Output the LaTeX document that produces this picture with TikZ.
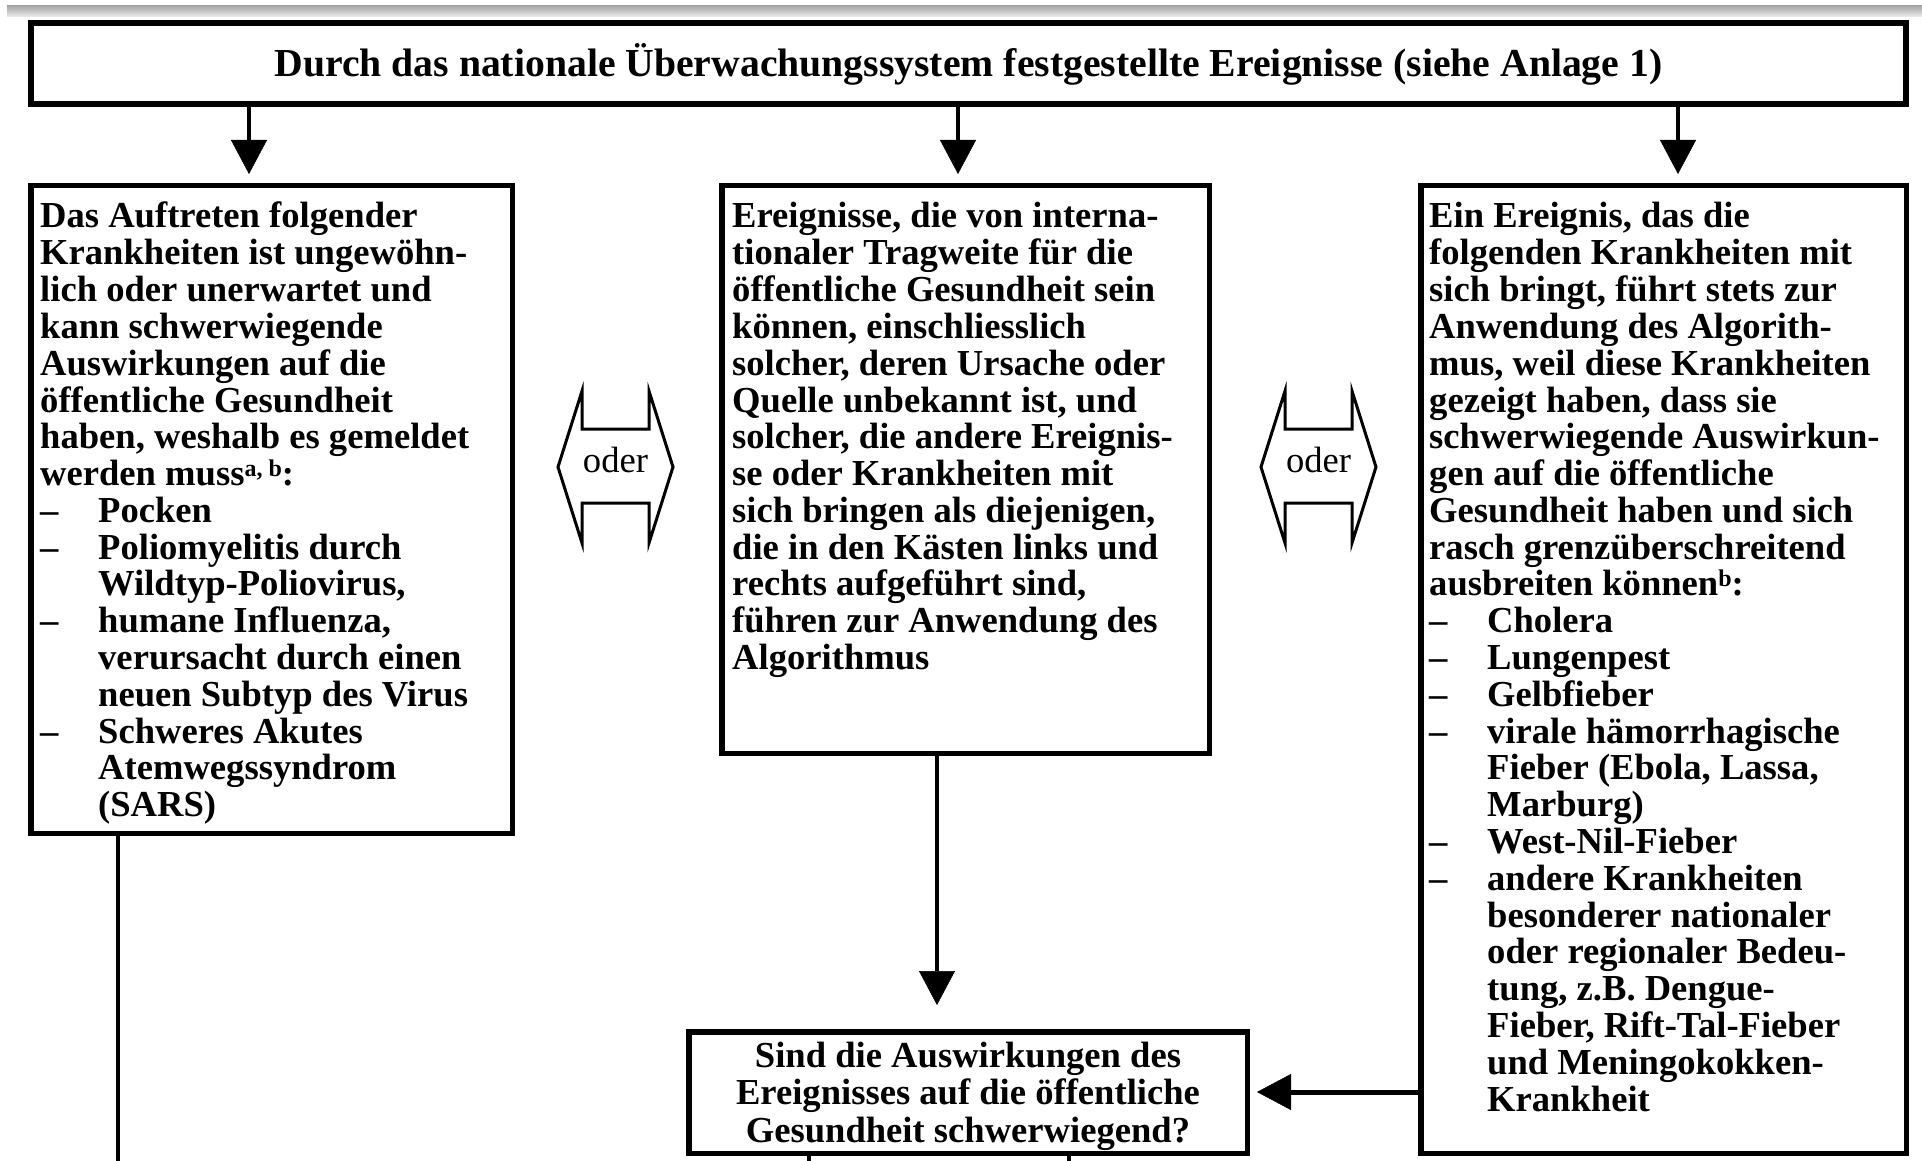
\documentclass[tikz,border=0pt]{standalone}
\usepackage{fontspec}
\setmainfont{Liberation Serif}
\usetikzlibrary{arrows.meta}
\newcommand\dgBody{\fontsize{36.6}{36.8}\selectfont\bfseries\hyphenpenalty=10000 }
\newcommand\dgItem{\makebox[58pt][l]{–}}
\newcommand\dgInd{\hspace*{58pt}}
\newcommand\dgSup[1]{\raisebox{9pt}{\fontsize{24}{24}\selectfont #1}}
\tikzset{
  box/.style={draw, line width=5.5pt, inner sep=0pt},
  body/.style={inner sep=0pt, anchor=base west, align=flush left, font=\dgBody, text width=#1},
  arr/.style={line width=4.5pt, -{Triangle[length=34pt,width=36pt,line width=0.5pt]}},
  conn/.style={line width=4.5pt},
  oderline/.style={line width=3pt, line join=miter},
  odertext/.style={inner sep=0pt, anchor=base, font=\fontsize{36.6}{36.8}\selectfont}
}
\begin{document}
\begin{tikzpicture}[x=1pt,y=-1pt]
\fill[white] (0,0) rectangle (1922,1161);
\useasboundingbox (0,0) rectangle (1922,1161);
% grey band at top
\shade[top color=gray!70, bottom color=gray!12] (7,6) rectangle (1922,17);

% boxes
\node[box, minimum width=1875pt, minimum height=81pt] (T) at (968.5,63.5) {};
\node[box, minimum width=481.5pt, minimum height=647.5pt] (L) at (271.5,509.5) {};
\node[box, minimum width=487.5pt, minimum height=567.5pt] (M) at (965.5,469.5) {};
\node[box, minimum width=485.5pt, minimum height=967.5pt] (R) at (1663.5,669.5) {};
\node[box, minimum width=558.5pt, minimum height=121.5pt] (B) at (968,1092.5) {};

% texts
\node[inner sep=0pt, anchor=base, font=\fontsize{39.7}{40}\selectfont\bfseries] (Ttx) at (968.5,77)
  {Durch das nationale Überwachungssystem festgestellte Ereignisse (siehe Anlage 1)};

\node[body=470pt] (Ltx) at (40,228) {Das Auftreten folgender\\
Krankheiten ist ungewöhn-\\
lich oder unerwartet und\\
kann schwerwiegende\\
Auswirkungen auf die\\
öffentliche Gesundheit\\
haben, weshalb es gemeldet\\
werden muss\dgSup{a, b}:\\
\dgItem Pocken\\
\dgItem Poliomyelitis durch\\
\dgInd Wildtyp-Poliovirus,\\
\dgItem humane Influenza,\\
\dgInd verursacht durch einen\\
\dgInd neuen Subtyp des Virus\\
\dgItem Schweres Akutes\\
\dgInd Atemwegssyndrom\\
\dgInd (SARS)};

\node[body=470pt] (Mtx) at (732,228) {Ereignisse, die von interna-\\
tionaler Tragweite für die\\
öffentliche Gesundheit sein\\
können, einschliesslich\\
solcher, deren Ursache oder\\
Quelle unbekannt ist, und\\
solcher, die andere Ereignis-\\
se oder Krankheiten mit\\
sich bringen als diejenigen,\\
die in den Kästen links und\\
rechts aufgeführt sind,\\
führen zur Anwendung des\\
Algorithmus};

\node[body=470pt] (Rtx) at (1429,228) {Ein Ereignis, das die\\
folgenden Krankheiten mit\\
sich bringt, führt stets zur\\
Anwendung des Algorith-\\
mus, weil diese Krankheiten\\
gezeigt haben, dass sie\\
schwerwiegende Auswirkun-\\
gen auf die öffentliche\\
Gesundheit haben und sich\\
rasch grenzüberschreitend\\
ausbreiten können\dgSup{b}:\\
\dgItem Cholera\\
\dgItem Lungenpest\\
\dgItem Gelbfieber\\
\dgItem virale hämorrhagische\\
\dgInd Fieber (Ebola, Lassa,\\
\dgInd Marburg)\\
\dgItem West-Nil-Fieber\\
\dgItem andere Krankheiten\\
\dgInd besonderer nationaler\\
\dgInd oder regionaler Bedeu-\\
\dgInd tung, z.B. Dengue-\\
\dgInd Fieber, Rift-Tal-Fieber\\
\dgInd und Meningokokken-\\
\dgInd Krankheit};

\node[inner sep=0pt, anchor=base, align=flush center, text width=540pt,
      font=\fontsize{36.6}{37.5}\selectfont\bfseries] (Btx) at (968,1067)
  {Sind die Auswirkungen des\\Ereignisses auf die öffentliche\\Gesundheit schwerwiegend?};

% "oder" double arrows
\draw[oderline] (558,467) -- (582,391) -- (582,429) -- (649,429) -- (649,391) -- (673,467)
  -- (649,543) -- (649,503) -- (582,503) -- (582,543) -- cycle;
\node[odertext] (O1) at (615.5,472) {oder};
\draw[oderline] (1261,467) -- (1285,391) -- (1285,429) -- (1352,429) -- (1352,391) -- (1376,467)
  -- (1352,543) -- (1352,503) -- (1285,503) -- (1285,543) -- cycle;
\node[odertext] (O2) at (1318.5,472) {oder};

% connectors
\coordinate (xL) at (249,0);
\coordinate (xM) at (958,0);
\coordinate (xR) at (1678,0);
\coordinate (xMB) at (937,0);
\coordinate (yRB) at (0,1092);
\draw[arr, shorten >=9pt] (T.south -| xL) -- (L.north -| xL);
\draw[arr, shorten >=9pt] (T.south -| xM) -- (M.north -| xM);
\draw[arr, shorten >=9pt] (T.south -| xR) -- (R.north -| xR);
\draw[arr, shorten >=24pt] (M.south -| xMB) -- (B.north -| xMB);
\draw[arr, line width=5pt, shorten >=7pt] (R.west |- yRB) -- (B.east |- yRB);

\coordinate (Lend) at (118,1161);
\coordinate (B1end) at (809,1161);
\coordinate (B2end) at (1069,1161);
\draw[conn] (L.south -| Lend) -- (Lend);
\draw[conn] (B.south -| B1end) -- (B1end);
\draw[conn] (B.south -| B2end) -- (B2end);
\end{tikzpicture}
\end{document}
